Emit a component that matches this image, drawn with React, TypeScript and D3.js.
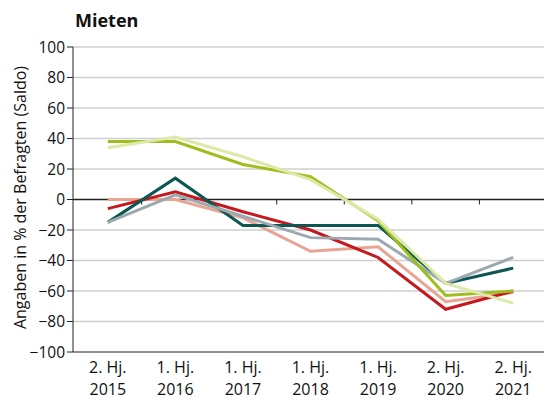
import React from "react";
import * as d3 from "d3";

const categories = ["2. Hj.|2015", "1. Hj.|2016", "1. Hj.|2017", "1. Hj.|2018", "1. Hj.|2019", "2. Hj.|2020", "2. Hj.|2021"];
const salmon = [0, 0, -12, -34, -31, -67, -61];
const red = [-6, 5, -8, -20, -38, -72, -60];
const teal = [-15, 14, -17, -17, -17, -55, -45];
const gray = [-15, 3, -11, -25, -26, -55, -38];
const lime = [38, 38, 23, 15, -14, -63, -60];
const pale = [34, 41, 28, 13, -13, -55, -68];
const yTicks = [100, 80, 60, 40, 20, 0, -20, -40, -60, -80, -100];

const series = [
  { values: salmon, color: "#e8a594" },
  { values: red, color: "#c41a1f" },
  { values: teal, color: "#0c5752" },
  { values: gray, color: "#9ca9ae" },
  { values: lime, color: "#9dbf1e" },
  { values: pale, color: "#dde9a9" },
];

export default function App() {
  const W = 544, H = 401;
  const left = 73, right = 547, top = 47, bottom = 352;
  const x = d3.scaleBand().domain(categories).range([left + 1, right]);
  const y = d3.scaleLinear().domain([-100, 100]).range([bottom, top]);
  const line = d3.line<number>().x((_, i) => x(categories[i])! + x.bandwidth() / 2).y((d) => y(d));
  const font = "'Open Sans', 'Noto Sans', sans-serif";
  return (
    <svg width={W} height={H} style={{ position: "absolute", left: 0, top: 0 }} fontFamily={font}>
      <rect width={W} height={H} fill="#fff" />
      <text x={75} y={27} fontSize={18} fontWeight="bold" fill="#111">Mieten</text>
      {yTicks.filter((t) => t !== 0 && t !== -100).map((t) => (
        <line key={t} x1={left} x2={W} y1={y(t)} y2={y(t)} stroke="#cfcfcf" strokeWidth={1.3} />
      ))}
      {yTicks.map((t) => (
        <g key={"t" + t}>
          <line x1={left - 6} x2={left} y1={y(t)} y2={y(t)} stroke="#222" strokeWidth={1} />
          <text x={left - 8} y={y(t)} dy="0.36em" textAnchor="end" fontSize={15.5} fill="#111">
            {t < 0 ? "\u2212" + Math.abs(t) : t}
          </text>
        </g>
      ))}
      <text transform={`translate(26,${y(0) - 2}) rotate(-90)`} textAnchor="middle" fontSize={16} fill="#111">
        Angaben in % der Befragten (Saldo)
      </text>
      <line x1={left} x2={left} y1={top} y2={bottom} stroke="#222" strokeWidth={1} />
      <line x1={left} x2={W} y1={y(-100)} y2={y(-100)} stroke="#222" strokeWidth={1} />
      <line x1={left} x2={W} y1={y(0)} y2={y(0)} stroke="#222" strokeWidth={1.3} />
      {categories.slice(1).map((c) => (
        <line key={"xt" + c} x1={x(c)} x2={x(c)} y1={y(0)} y2={y(0) + 5} stroke="#222" strokeWidth={1} />
      ))}
      {categories.map((c) => {
        const [a, b] = c.split("|");
        const cx = x(c)! + x.bandwidth() / 2;
        return (
          <text key={c} x={cx} textAnchor="middle" fontSize={16} fill="#111">
            <tspan x={cx} y={373}>{a}</tspan>
            <tspan x={cx} y={395}>{b}</tspan>
          </text>
        );
      })}
      {series.map((s, i) => (
        <path key={i} d={line(s.values)!} fill="none" stroke={s.color} strokeWidth={3} strokeLinejoin="miter" />
      ))}
    </svg>
  );
}
